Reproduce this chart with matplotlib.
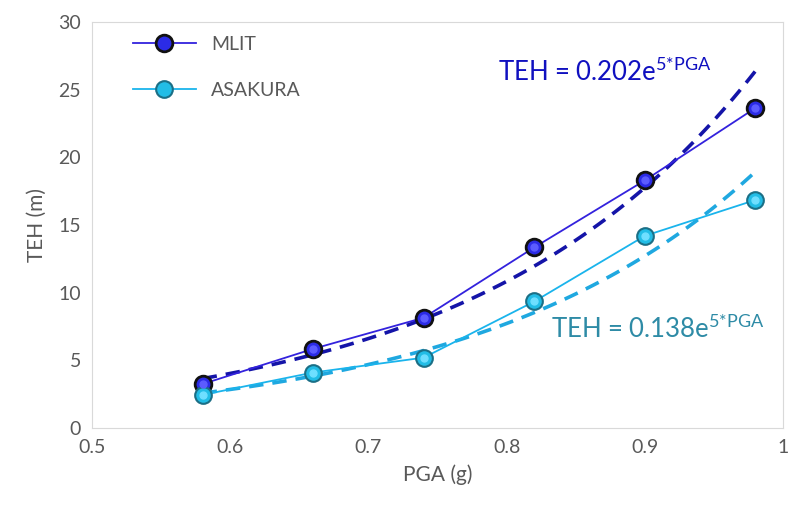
import numpy as np
import matplotlib
matplotlib.use("Agg")
import matplotlib.pyplot as plt

pga = [0.58, 0.66, 0.74, 0.82, 0.90, 0.98]
teh_mlit = [3.25, 5.85, 8.15, 13.35, 18.3, 23.65]
teh_asakura = [2.45, 4.1, 5.2, 9.35, 14.2, 16.85]

plt.rcParams['font.family'] = ['Lato', 'DejaVu Sans']
plt.rcParams['mathtext.default'] = 'regular'

fig = plt.figure(figsize=(7.88, 5.07), dpi=100)
ax = fig.add_axes([0.1168, 0.1558, 0.8770, 0.8008])


def expfit(x, y):
	# exponential trendline, like excel does it
	b, ln_a = np.polyfit(x, np.log(y), 1)
	xs = np.linspace(min(x), max(x), 100)
	return xs, np.exp(ln_a) * np.exp(b * xs)


x = np.array(pga)
xs, ys = expfit(x, np.array(teh_mlit))
ax.plot(xs, ys, '--', color='#1414a8', lw=2.6, dashes=(4, 2.5), zorder=2)
xs, ys = expfit(x, np.array(teh_asakura))
ax.plot(xs, ys, '--', color='#1fa8e0', lw=2.6, dashes=(4, 2.5), zorder=2)

ax.plot(pga, teh_mlit, '-', color='#3322dd', lw=1.3, marker='o', ms=12,
	mfc='#2b2be6', mec='#111111', mew=2, label='MLIT', zorder=3)
ax.plot(pga, teh_asakura, '-', color='#1ab4ec', lw=1.3, marker='o', ms=12,
	mfc='#22bde6', mec='#1b6f86', mew=1.5, label='ASAKURA', zorder=3)
# small highlight to get the glossy ball look
ax.plot(pga, teh_mlit, 'o', ms=5, color='#5c5cff', zorder=4)
ax.plot(pga, teh_asakura, 'o', ms=5, color='#6fdfff', zorder=4)

ax.set_xlim(0.5, 1.0)
ax.set_ylim(0, 30)
ax.set_xticks([0.5, 0.6, 0.7, 0.8, 0.9, 1.0])
ax.set_xticklabels(['0.5', '0.6', '0.7', '0.8', '0.9', '1'])
ax.set_yticks(np.arange(0, 31, 5))
ax.tick_params(length=0, labelsize=14, labelcolor='#595959', pad=8)
for s in ax.spines.values():
	s.set_color('#d9d9d9')
ax.set_xlabel('PGA (g)', fontsize=15, color='#595959', labelpad=6)
ax.set_ylabel('TEH (m)', fontsize=15, color='#595959', labelpad=8)

ax.text(0.794, 26.3, 'TEH = 0.202e$^{5{*}PGA}$', fontsize=18.5, color='#1010c0', va='center')
ax.text(0.832, 7.3, 'TEH = 0.138e$^{5{*}PGA}$', fontsize=18.5, color='#2e8ba6', va='center')

leg = ax.legend(loc='upper left', frameon=False, fontsize=14, labelspacing=1.5,
	handlelength=3.2, bbox_to_anchor=(0.04, 1.0), borderaxespad=0.3)
for t in leg.get_texts():
	t.set_color('#595959')

fig.savefig('out.png', dpi=100)
